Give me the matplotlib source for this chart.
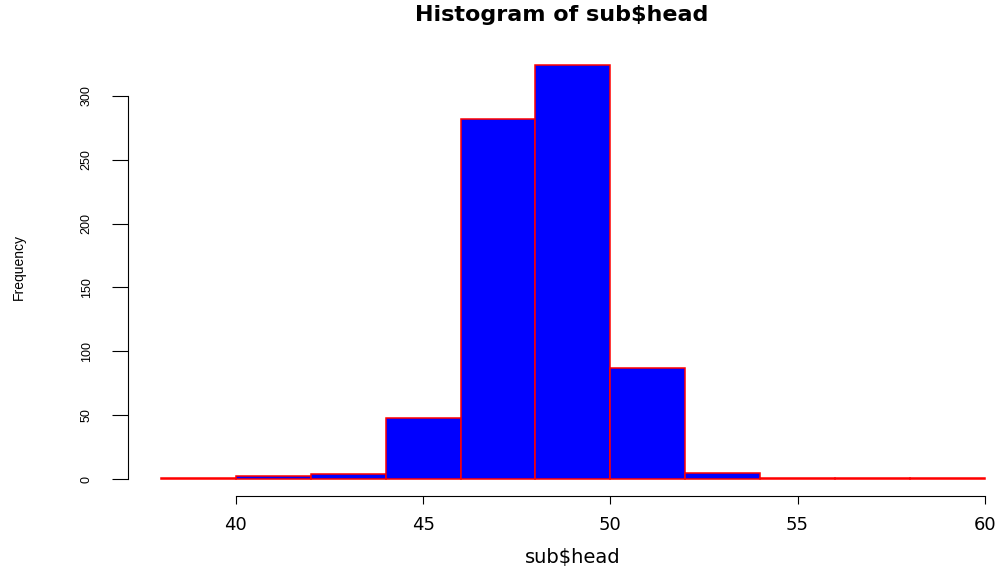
import matplotlib
matplotlib.use("Agg")
import matplotlib.pyplot as plt

# histogram of sub$head, bins of width 2
breaks = [38, 40, 42, 44, 46, 48, 50, 52, 54, 56, 58, 60]
counts = [1, 2, 4, 48, 282, 324, 87, 5, 1, 1, 1]
x_ticks = [40, 45, 50, 55, 60]
y_ticks = [0, 50, 100, 150, 200, 250, 300]

fig = plt.figure(figsize=(10.02, 5.67), dpi=100)
ax = fig.add_axes([128 / 1002, 1 - 495.5 / 567, 874 / 1002, 447.5 / 567])

widths = [b - a for a, b in zip(breaks[:-1], breaks[1:])]
ax.bar(breaks[:-1], counts, width=widths, align='edge',
       color='#0000ff', edgecolor='#ff0000', linewidth=1.1)

ax.set_xlim(37.12, 60.46)
ax.set_ylim(-12.9, 337.5)

for s in ['top', 'right']:
    ax.spines[s].set_visible(False)
ax.spines['bottom'].set_bounds(40, 60)
ax.spines['left'].set_bounds(0, 300)
ax.spines['bottom'].set_linewidth(0.8)
ax.spines['left'].set_linewidth(0.8)

ax.set_xticks(x_ticks)
ax.set_yticks(y_ticks)
ax.tick_params(axis='x', length=5.8, width=0.8, pad=9, labelsize=13)
ax.tick_params(axis='y', length=11.5, width=0.8, pad=14)
for lab in ax.get_xticklabels():
    lab.set_fontfamily('DejaVu Sans')
for lab in ax.get_yticklabels():
    lab.set_fontfamily('Liberation Sans')
    lab.set_fontsize(9)
    lab.set_rotation(90)
    lab.set_va('center')

fig.text(562 / 1002, 1 - 15 / 567, 'Histogram of sub$head', ha='center', va='center',
         fontsize=16, fontweight='bold', family='DejaVu Sans')
fig.text(573 / 1002, 1 - 557 / 567, 'sub$head', ha='center', va='center',
         fontsize=14, family='DejaVu Sans')
fig.text(19 / 1002, 1 - 267 / 567, 'Frequency', ha='center', va='center',
         rotation=90, fontsize=10, family='Liberation Sans')

fig.savefig('out.png', dpi=100)
